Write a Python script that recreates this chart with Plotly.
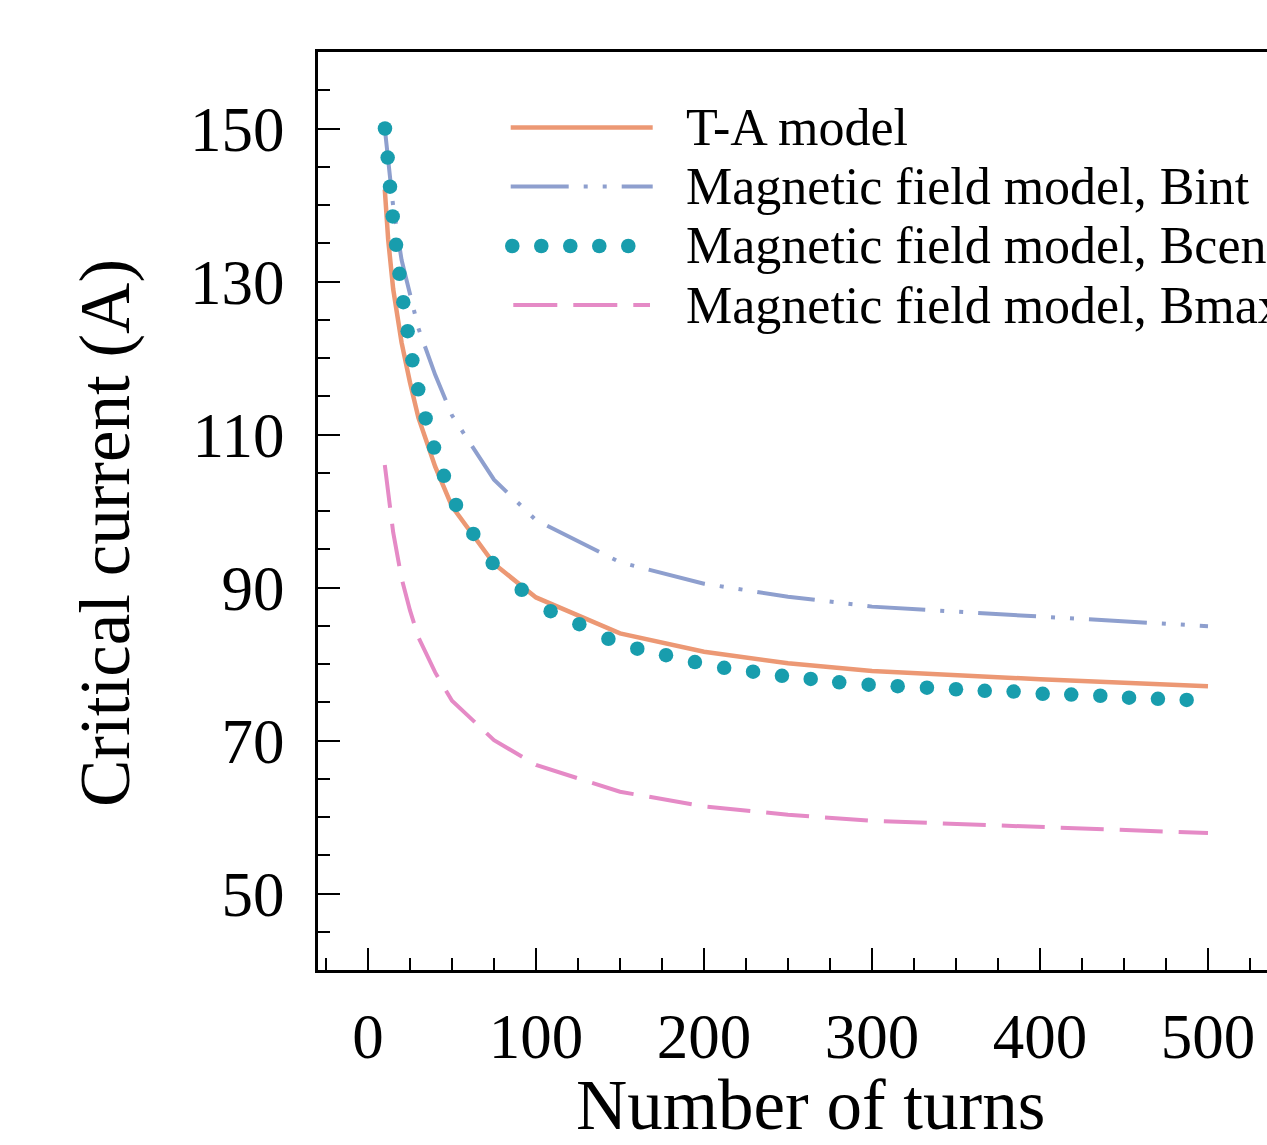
import plotly.graph_objects as go

# ---------------- data ----------------
ta_n = [10, 12, 15, 20, 25, 30, 40, 50, 75, 100, 150, 200, 250, 300, 400, 500]
ta_ic = [142.0, 135.5, 129.0, 122.0, 116.8, 112.2, 105.8, 100.6, 93.1, 88.7, 84.0, 81.6, 80.1, 79.1, 78.0, 77.1]

bint_n = [10, 12, 15, 20, 25, 30, 40, 50, 75, 100, 150, 200, 250, 300, 400, 500]
bint_ic = [150.0, 145.5, 139.8, 132.8, 128.3, 123.9, 117.8, 112.5, 104.1, 98.8, 93.3, 90.5, 88.8, 87.5, 86.2, 84.95]

bcen_n = [10.1, 11.7, 13.1, 14.7, 16.7, 18.7, 21.0, 23.6, 26.4, 29.9, 34.3, 39.3, 45.2, 52.4,
          62.7, 74.2, 91.5, 108.7, 125.8, 143.1, 160.3, 177.4, 194.6, 212.0, 229.2, 246.4,
          263.5, 280.5, 298.0, 315.3, 332.7, 350.0, 367.1, 384.3, 401.6, 418.6, 435.9, 453.0,
          470.2, 487.3]
bcen_ic = [150.0, 146.2, 142.4, 138.5, 134.8, 131.0, 127.3, 123.5, 119.7, 115.9, 112.1, 108.3,
           104.6, 100.8, 97.0, 93.2, 89.7, 86.9, 85.2, 83.3, 82.0, 81.15, 80.25, 79.5, 79.0,
           78.45, 78.05, 77.6, 77.3, 77.1, 76.9, 76.7, 76.5, 76.4, 76.1, 76.0, 75.85, 75.6,
           75.45, 75.3]

bmax_n = [10, 12, 15, 20, 25, 30, 40, 50, 75, 100, 150, 200, 250, 300, 400, 500]
bmax_ic = [106.0, 102.3, 97.2, 91.2, 87.0, 83.5, 78.9, 75.2, 70.05, 66.8, 63.3, 61.4, 60.3, 59.5, 58.7, 57.9]

series_names = ["T-A model", "Magnetic field model, Bint",
                "Magnetic field model, Bcen", "Magnetic field model, Bmax"]
x_tick_vals = [0, 100, 200, 300, 400, 500]
y_tick_vals = [50, 70, 90, 110, 130, 150]

# ---------------- style ----------------
C_TA = "rgb(236,152,116)"
C_BINT = "rgb(142,159,206)"
C_BCEN = "rgb(24,157,173)"
C_BMAX = "rgb(229,138,198)"
FONT = "Liberation Serif, Times New Roman, serif"

W, H = 1267, 1145
ML, MR, MT, MB = 318, 0, 52, 175
PW, PH = W - ML - MR, H - MT - MB


def px(xp):
    return (xp - ML) / PW


def py(yp):
    return (H - MB - yp) / PH


fig = go.Figure()
fig.add_trace(go.Scatter(x=bmax_n, y=bmax_ic, mode="lines", name=series_names[3],
                         line=dict(color=C_BMAX, width=4, dash="43px,16px")))
fig.add_trace(go.Scatter(x=bint_n, y=bint_ic, mode="lines", name=series_names[1],
                         line=dict(color=C_BINT, width=4,
                                   dash="58px,15px,4px,15px,4px,15px")))
fig.add_trace(go.Scatter(x=ta_n, y=ta_ic, mode="lines", name=series_names[0],
                         line=dict(color=C_TA, width=4.5)))
fig.add_trace(go.Scatter(x=bcen_n, y=bcen_ic, mode="markers", name=series_names[2],
                         marker=dict(color=C_BCEN, size=14.5, line=dict(width=0))))

axis_common = dict(
    showgrid=False, zeroline=False, showline=True, linecolor="black", linewidth=2.6,
    ticks="inside", tickcolor="black", tickwidth=2.2, ticklen=22,
    tickfont=dict(family=FONT, size=63, color="black"),
)

fig.update_xaxes(range=[(ML - 368) / 1.68, (W - MR - 368) / 1.68],
                 tickmode="array", tickvals=x_tick_vals, ticktext=[str(v) for v in x_tick_vals],
                 minor=dict(ticks="inside", dtick=25, tick0=0, ticklen=12,
                            tickwidth=2.2, tickcolor="black", showgrid=False),
                 mirror=True, ticklabelstandoff=10, **axis_common)
fig.update_yaxes(range=[40, 160],
                 tickmode="array", tickvals=y_tick_vals, ticktext=[str(v) for v in y_tick_vals],
                 minor=dict(ticks="inside", dtick=5, tick0=0, ticklen=12,
                            tickwidth=2.2, tickcolor="black", showgrid=False),
                 mirror=False, ticklabelstandoff=18, **axis_common)

# manual legend
shapes = []
shapes.append(dict(type="line", xref="paper", yref="paper", x0=px(510.7), x1=px(652.7),
                   y0=py(127.5), y1=py(127.5), line=dict(color=C_TA, width=4.5)))
shapes.append(dict(type="line", xref="paper", yref="paper", x0=px(510.7), x1=px(652.7),
                   y0=py(186.5), y1=py(186.5),
                   line=dict(color=C_BINT, width=4, dash="58px,15px,4px,15px,4px,15px")))
for cx in [512.3, 541.3, 570.3, 599.3, 628.3]:
    shapes.append(dict(type="circle", xref="paper", yref="paper", xsizemode="pixel",
                       ysizemode="pixel", xanchor=px(cx), yanchor=py(246),
                       x0=-7.3, x1=7.3, y0=-7.3, y1=7.3,
                       fillcolor=C_BCEN, line=dict(width=0)))
shapes.append(dict(type="line", xref="paper", yref="paper", x0=px(513.3), x1=px(650),
                   y0=py(305), y1=py(305),
                   line=dict(color=C_BMAX, width=4, dash="44px,16px")))

annotations = []
for name, yy in zip(series_names, [127.5, 186.5, 246, 305]):
    annotations.append(dict(text=name, xref="paper", yref="paper", x=px(684), y=py(yy),
                            xanchor="left", yanchor="middle", showarrow=False,
                            font=dict(family=FONT, size=52, color="black")))
annotations.append(dict(text="Number of turns", xref="paper", yref="paper",
                        x=px(810), y=py(1105), xanchor="center", yanchor="middle",
                        showarrow=False, font=dict(family=FONT, size=71, color="black")))
annotations.append(dict(text="Critical current (A)", xref="paper", yref="paper",
                        x=px(105), y=py(533), xanchor="center", yanchor="middle",
                        textangle=-90, showarrow=False,
                        font=dict(family=FONT, size=71, color="black")))

fig.update_layout(width=W, height=H, margin=dict(l=ML, r=MR, t=MT, b=MB, autoexpand=False),
                  paper_bgcolor="white", plot_bgcolor="white", showlegend=False,
                  shapes=shapes, annotations=annotations)

fig.write_html("out.html", config={"displayModeBar": False},
               post_script="document.body.style.margin='0';document.body.style.overflow='hidden';")
